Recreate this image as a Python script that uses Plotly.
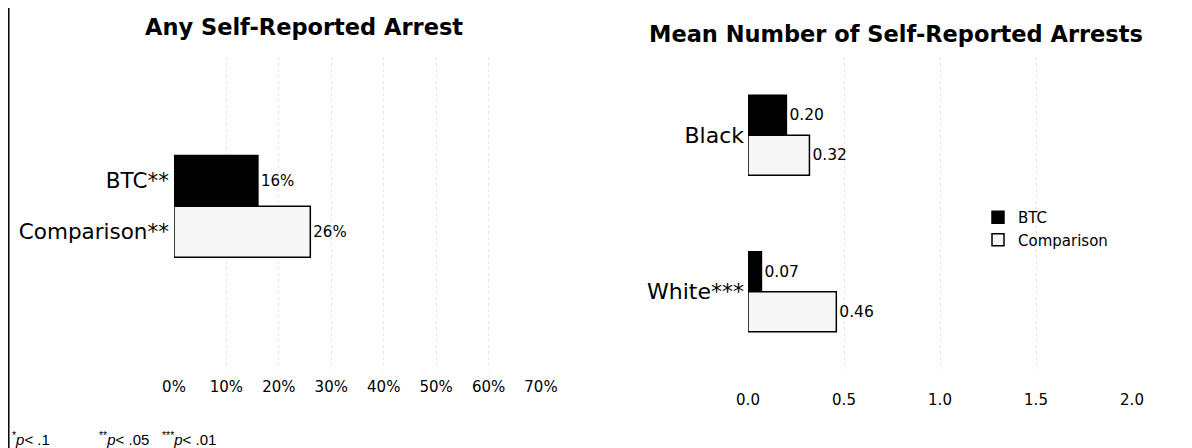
import plotly.graph_objects as go

# ---- data ----
left_categories = ["BTC**", "Comparison**"]
left_values = [16, 26]
left_ticks = [0, 10, 20, 30, 40, 50, 60, 70]
left_ticktext = ["0%", "10%", "20%", "30%", "40%", "50%", "60%", "70%"]

right_categories = ["Black", "White***"]
right_btc = [0.20, 0.07]
right_comparison = [0.32, 0.46]
right_ticks = [0.0, 0.5, 1.0, 1.5, 2.0]
right_ticktext = ["0.0", "0.5", "1.0", "1.5", "2.0"]

# page body adds an 8px margin, so the figure is 8px smaller on each axis
OFF = 8
W, H = 1192 - OFF, 448 - OFF
def px(x):
    return (x - OFF) / W
def py(y):
    return 1 - (y - OFF) / H

FONT = "Liberation Sans, Arial, Helvetica, sans-serif"
WIDE = "DejaVu Sans, Verdana, sans-serif"
COMP_FILL = "#f6f6f6"

fig = go.Figure()

fig.add_trace(go.Bar(
    x=left_values, y=left_categories, orientation="h",
    marker=dict(color=["#000000", COMP_FILL], line=dict(color="#000000", width=1.5)),
    width=1.0,
    text=[f"{v}%" for v in left_values], textposition="outside",
    textfont=dict(size=15, color="#000000", family=WIDE),
    cliponaxis=False, showlegend=False, xaxis="x", yaxis="y",
))

fig.add_trace(go.Bar(
    name="BTC", x=right_btc, y=right_categories, orientation="h",
    marker=dict(color="#000000", line=dict(color="#000000", width=1.5)),
    width=0.255, offset=-0.255, legendgroup="a",
    text=[f"{v:.2f}" for v in right_btc], textposition="outside",
    textfont=dict(size=15.5, color="#000000", family=WIDE),
    cliponaxis=False, xaxis="x2", yaxis="y2",
))
fig.add_trace(go.Bar(
    name="Comparison", x=right_comparison, y=right_categories, orientation="h",
    marker=dict(color=COMP_FILL, line=dict(color="#000000", width=1.5)),
    width=0.255, offset=0.0, legendgroup="b",
    text=[f"{v:.2f}" for v in right_comparison], textposition="outside",
    textfont=dict(size=15.5, color="#000000", family=WIDE),
    cliponaxis=False, xaxis="x2", yaxis="y2",
))

plot_y = [py(370), py(57)]
GRID = "#e6e6e6"

fig.update_layout(
    width=W, height=H,
    margin=dict(l=0, r=0, t=0, b=0, autoexpand=False),
    paper_bgcolor="white", plot_bgcolor="white",
    font=dict(family=FONT, color="#000000"),
    barmode="overlay",
    xaxis=dict(domain=[px(174), px(541)], range=[0, 70], tickvals=left_ticks,
               ticktext=left_ticktext, showline=False, zeroline=False,
               showgrid=True, gridcolor=GRID, griddash="dot", gridwidth=1,
               ticks="", tickfont=dict(size=15, family=WIDE), ticklabelstandoff=6,
               anchor="y", automargin=False),
    yaxis=dict(domain=plot_y, type="category", range=[3.71, -2.43],
               showline=False, zeroline=False, showgrid=False, ticks="",
               tickfont=dict(size=21.5, family=WIDE), ticklabelstandoff=4,
               anchor="x", automargin=False),
    xaxis2=dict(domain=[px(748), px(1132)], range=[0, 2], tickvals=right_ticks,
                ticktext=right_ticktext, showline=False, zeroline=False,
                showgrid=True, gridcolor=GRID, griddash="dot", gridwidth=1,
                ticks="", tickfont=dict(size=15, family=WIDE), ticklabelstandoff=19,
                anchor="y2", automargin=False),
    yaxis2=dict(domain=plot_y, type="category", range=[1.5, -0.5],
                showline=False, zeroline=False, showgrid=False, ticks="",
                tickfont=dict(size=22, family=WIDE), ticklabelstandoff=3,
                anchor="x2", automargin=False),
    legend=dict(x=px(978), y=py(201), xanchor="left", yanchor="top",
                font=dict(size=15, family=WIDE), bgcolor="rgba(0,0,0,0)",
                itemwidth=30, tracegroupgap=4, traceorder="normal"),
)

annotations = [
    dict(text="<b>Any Self-Reported Arrest</b>", x=px(304), y=py(27),
         font=dict(size=22.5, family=WIDE)),
    dict(text="<b>Mean Number of Self-Reported Arrests</b>", x=px(896), y=py(34),
         font=dict(size=22.5, family=WIDE)),
    dict(text="<sup>*</sup><i>p</i>< .1", x=px(10), y=py(438), xanchor="left",
         font=dict(size=15)),
    dict(text="<sup>**</sup><i>p</i>< .05", x=px(97), y=py(438), xanchor="left",
         font=dict(size=15)),
    dict(text="<sup>***</sup><i>p</i>< .01", x=px(160), y=py(438), xanchor="left",
         font=dict(size=15)),
]
for a in annotations:
    a.update(xref="paper", yref="paper", showarrow=False)
    a.setdefault("xanchor", "center")
    a["yanchor"] = "middle"
fig.update_layout(annotations=annotations)

fig.add_shape(type="line", xref="paper", yref="paper",
              x0=px(8.8), x1=px(8.8), y0=0, y1=1,
              line=dict(color="#000000", width=1.5))

fig.write_html("out.html")
